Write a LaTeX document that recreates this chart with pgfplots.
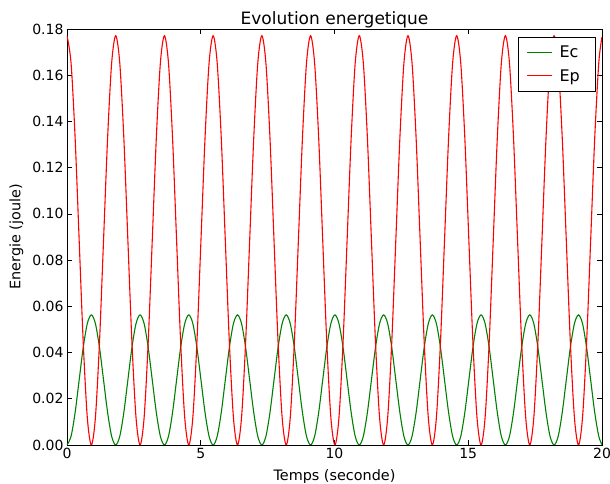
\documentclass[border=0pt]{standalone}
\usepackage{fontspec}
\setmainfont{DejaVu Sans}
\usepackage{pgfplots}
\pgfplotsset{compat=1.18}
\usepackage{pgfplotstable}
\definecolor{mplgreen}{rgb}{0,0.5,0}
\definecolor{mplred}{rgb}{1,0,0}

\pgfplotstableread{
t Ec Ep
0.000 0.00000 0.17710
0.152 0.00377 0.16523
0.304 0.01408 0.13283
0.455 0.02815 0.08855
0.607 0.04223 0.04428
0.759 0.05253 0.01187
0.911 0.05630 0.00000
1.062 0.05253 0.01187
1.214 0.04223 0.04428
1.366 0.02815 0.08855
1.518 0.01408 0.13283
1.669 0.00377 0.16523
1.821 0.00000 0.17710
1.973 0.00377 0.16523
2.125 0.01408 0.13283
2.276 0.02815 0.08855
2.428 0.04223 0.04428
2.580 0.05253 0.01187
2.732 0.05630 0.00000
2.883 0.05253 0.01187
3.035 0.04223 0.04428
3.187 0.02815 0.08855
3.339 0.01408 0.13283
3.490 0.00377 0.16523
3.642 0.00000 0.17710
3.794 0.00377 0.16523
3.946 0.01408 0.13283
4.097 0.02815 0.08855
4.249 0.04223 0.04428
4.401 0.05253 0.01187
4.553 0.05630 0.00000
4.704 0.05253 0.01187
4.856 0.04223 0.04428
5.008 0.02815 0.08855
5.160 0.01408 0.13283
5.311 0.00377 0.16523
5.463 0.00000 0.17710
5.615 0.00377 0.16523
5.767 0.01408 0.13283
5.918 0.02815 0.08855
6.070 0.04223 0.04428
6.222 0.05253 0.01187
6.374 0.05630 0.00000
6.525 0.05253 0.01187
6.677 0.04223 0.04428
6.829 0.02815 0.08855
6.981 0.01408 0.13283
7.132 0.00377 0.16523
7.284 0.00000 0.17710
7.436 0.00377 0.16523
7.588 0.01408 0.13283
7.739 0.02815 0.08855
7.891 0.04223 0.04428
8.043 0.05253 0.01187
8.195 0.05630 0.00000
8.346 0.05253 0.01187
8.498 0.04223 0.04428
8.650 0.02815 0.08855
8.802 0.01408 0.13283
8.953 0.00377 0.16523
9.105 0.00000 0.17710
9.257 0.00377 0.16523
9.409 0.01408 0.13283
9.560 0.02815 0.08855
9.712 0.04223 0.04428
9.864 0.05253 0.01187
10.016 0.05630 0.00000
10.167 0.05253 0.01187
10.319 0.04223 0.04428
10.471 0.02815 0.08855
10.623 0.01408 0.13283
10.774 0.00377 0.16523
10.926 0.00000 0.17710
11.078 0.00377 0.16523
11.230 0.01408 0.13283
11.381 0.02815 0.08855
11.533 0.04223 0.04428
11.685 0.05253 0.01187
11.837 0.05630 0.00000
11.988 0.05253 0.01187
12.140 0.04223 0.04428
12.292 0.02815 0.08855
12.444 0.01408 0.13283
12.595 0.00377 0.16523
12.747 0.00000 0.17710
12.899 0.00377 0.16523
13.051 0.01408 0.13283
13.202 0.02815 0.08855
13.354 0.04223 0.04428
13.506 0.05253 0.01187
13.658 0.05630 0.00000
13.809 0.05253 0.01187
13.961 0.04223 0.04428
14.113 0.02815 0.08855
14.265 0.01408 0.13283
14.416 0.00377 0.16523
14.568 0.00000 0.17710
14.720 0.00377 0.16523
14.872 0.01408 0.13283
15.023 0.02815 0.08855
15.175 0.04223 0.04428
15.327 0.05253 0.01187
15.479 0.05630 0.00000
15.630 0.05253 0.01187
15.782 0.04223 0.04428
15.934 0.02815 0.08855
16.086 0.01408 0.13283
16.237 0.00377 0.16523
16.389 0.00000 0.17710
16.541 0.00377 0.16523
16.693 0.01408 0.13283
16.844 0.02815 0.08855
16.996 0.04223 0.04428
17.148 0.05253 0.01187
17.300 0.05630 0.00000
17.451 0.05253 0.01187
17.603 0.04223 0.04428
17.755 0.02815 0.08855
17.907 0.01408 0.13283
18.058 0.00377 0.16523
18.210 0.00000 0.17710
18.362 0.00377 0.16523
18.514 0.01408 0.13283
18.665 0.02815 0.08855
18.817 0.04223 0.04428
18.969 0.05253 0.01187
19.121 0.05630 0.00000
19.272 0.05253 0.01187
19.424 0.04223 0.04428
19.576 0.02815 0.08855
19.728 0.01408 0.13283
19.879 0.00377 0.16523
20.000 0.00016 0.17660
}\data

\begin{document}
\begin{tikzpicture}
\useasboundingbox (-67pt,-39pt) rectangle (543pt,445pt);
\begin{axis}[
  at={(0,0)}, anchor=south west,
  scale only axis, width=535pt, height=416pt,
  xmin=0, xmax=20, ymin=0, ymax=0.18,
  xtick={0,5,10,15,20},
  ytick={0,0.02,0.04,0.06,0.08,0.10,0.12,0.14,0.16,0.18},
  tick align=inside, tick pos=both,
  major tick length=5pt,
  every tick/.style={black, line width=0.6pt},
  /pgf/number format/assume math mode=true,
  yticklabel style={/pgf/number format/.cd, fixed, fixed zerofill, precision=2},
  xticklabel style={/pgf/number format/.cd, fixed},
  tick label style={font=\fontsize{14}{16}\selectfont},
  label style={font=\fontsize{14.4}{16}\selectfont},
  xlabel style={yshift=-4pt},
  ylabel style={yshift=2pt},
  title style={font=\fontsize{17}{19}\selectfont, yshift=-9pt},
  title={Evolution energetique},
  xlabel={Temps (seconde)},
  ylabel={Energie (joule)},
  axis line style={line width=0.9pt},
  legend style={at={(1,1)}, anchor=north east, xshift=-7pt, yshift=-8pt,
    draw=black, font=\fontsize{16}{18}\selectfont,
    row sep=6pt, inner xsep=8pt, inner ysep=7pt,
    nodes={inner xsep=7pt}},
  legend cell align=left,
  legend image code/.code={\draw[#1] (0pt,0pt) -- (25pt,0pt);},
]
\addplot[draw=mplgreen, line width=1.1pt, smooth] table[x=t, y=Ec] {\data};
\addlegendentry{Ec}
\addplot[draw=mplred, line width=1.1pt, smooth] table[x=t, y=Ep] {\data};
\addlegendentry{Ep}
\end{axis}
\end{tikzpicture}
\end{document}
